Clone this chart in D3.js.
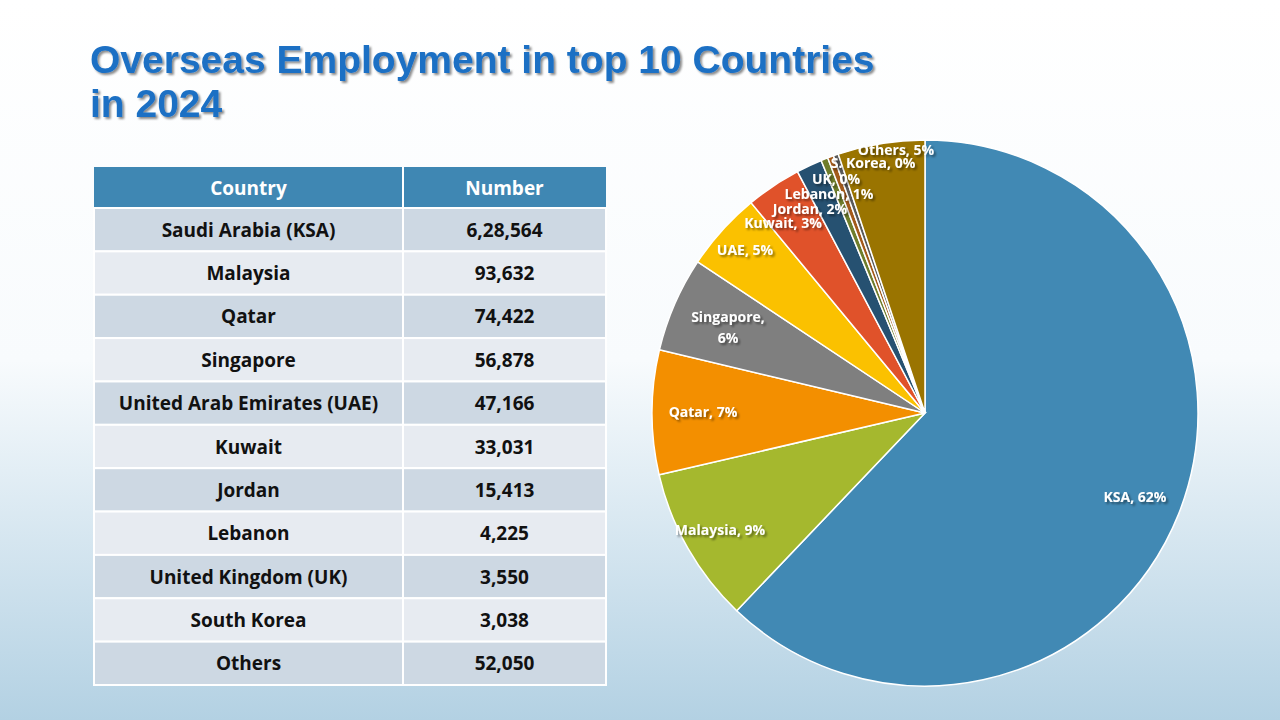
<!DOCTYPE html><html><head><meta charset="utf-8"><script src="https://cdn.jsdelivr.net/npm/d3@7"></script>
<style>body{margin:0}svg{display:block}</style></head><body><svg id="c" width="1280" height="720"></svg>
<script>
const countries=["Saudi Arabia (KSA)","Malaysia","Qatar","Singapore","United Arab Emirates (UAE)","Kuwait","Jordan","Lebanon","United Kingdom (UK)","South Korea","Others"];
const numbers=[628564,93632,74422,56878,47166,33031,15413,4225,3550,3038,52050];
const pieLabels=["KSA, 62%","Malaysia, 9%","Qatar, 7%","Singapore,|6%","UAE, 5%","Kuwait, 3%","Jordan, 2%","Lebanon, 1%","UK, 0%","S. Korea, 0%","Others, 5%"];
const colors=["#4189b4","#a5b82e","#f38f00","#7f7f7f","#fbc100","#e0522a","#265171","#6f7d2b","#a35a1a","#5b5b5b","#9a7400"];
const labelPos=[[1135,497],[720,530],[703,412],[728,317],[745,250],[783,223],[810,209],[829,194],[836,179],[873,163],[896,150]];
const svg=d3.select("#c");
const defs=svg.append("defs");
const g=defs.append("linearGradient").attr("id","bg").attr("x1",0).attr("x2",0).attr("y1",0).attr("y2",1);
g.append("stop").attr("offset","0%").attr("stop-color","#ffffff");
g.append("stop").attr("offset","50%").attr("stop-color","#f8fbfd");
g.append("stop").attr("offset","100%").attr("stop-color","#b3d1e3");
const f=defs.append("filter").attr("id","sh").attr("x","-10%").attr("y","-10%").attr("width","120%").attr("height","130%");
f.append("feDropShadow").attr("dx",2).attr("dy",2).attr("stdDeviation",1.2).attr("flood-color","#000").attr("flood-opacity",0.45);
svg.append("rect").attr("width",1280).attr("height",720).attr("fill","url(#bg)");
const title=svg.append("text").attr("font-family","Liberation Sans, Arial").attr("font-weight","bold").attr("font-size",39).attr("fill","#1b6fc4").attr("filter","url(#sh)");
title.append("tspan").attr("x",90).attr("y",73).text("Overseas Employment  in top 10 Countries");
title.append("tspan").attr("x",90).attr("y",117).text("in 2024");
// table
const tx=94,tw=512,split=403,tTop=167,hh=41;
const rh=(685-tTop-hh)/countries.length;
const fmt=n=>{const s=String(n);if(s.length<=3)return s;const last=s.slice(-3);let rest=s.slice(0,-3);const parts=[];while(rest.length>2){parts.unshift(rest.slice(-2));rest=rest.slice(0,-2);}if(rest)parts.unshift(rest);return parts.join(",")+","+last;};
const T=svg.append("g").attr("font-family","Open Sans, Lato, sans-serif").attr("font-weight","bold").attr("font-size",19);
T.append("rect").attr("x",tx).attr("y",tTop).attr("width",tw).attr("height",hh).attr("fill","#3f87b3");
T.append("line").attr("x1",split).attr("x2",split).attr("y1",tTop).attr("y2",tTop+hh).attr("stroke","#fff").attr("stroke-width",2);
T.append("text").attr("x",(tx+split)/2).attr("y",tTop+hh/2+7).attr("text-anchor","middle").attr("fill","#fff").text("Country");
T.append("text").attr("x",(split+tx+tw)/2).attr("y",tTop+hh/2+7).attr("text-anchor","middle").attr("fill","#fff").text("Number");
countries.forEach((c,i)=>{const y=tTop+hh+i*rh;
T.append("rect").attr("x",tx).attr("y",y).attr("width",tw).attr("height",rh).attr("fill",i%2?"#e7ebf1":"#cdd8e3").attr("stroke","#fff").attr("stroke-width",2);
T.append("line").attr("x1",split).attr("x2",split).attr("y1",y).attr("y2",y+rh).attr("stroke","#fff").attr("stroke-width",2);
T.append("text").attr("x",(tx+split)/2).attr("y",y+rh/2+7).attr("text-anchor","middle").attr("fill","#111").text(c);
T.append("text").attr("x",(split+tx+tw)/2).attr("y",y+rh/2+7).attr("text-anchor","middle").attr("fill","#111").text(fmt(numbers[i]));
});
// pie
const cx=925,cy=413,R=273;
const pie=d3.pie().sort(null)(numbers);
const arc=d3.arc().innerRadius(0).outerRadius(R);
const P=svg.append("g").attr("transform",`translate(${cx},${cy})`);
P.selectAll("path").data(pie).join("path").attr("d",arc).attr("fill",(d,i)=>colors[i]).attr("stroke","#fff").attr("stroke-width",1.5);
const L=svg.append("g").attr("font-family","Open Sans, Lato, sans-serif").attr("font-weight","bold").attr("font-size",14).attr("fill","#fff").attr("filter","url(#sh)");
pieLabels.forEach((t,i)=>{const parts=t.split("|");const tt=L.append("text").attr("text-anchor","middle");
parts.forEach((p,j)=>tt.append("tspan").attr("x",labelPos[i][0]).attr("y",labelPos[i][1]+5+j*21).text(p));});
</script></body></html>
